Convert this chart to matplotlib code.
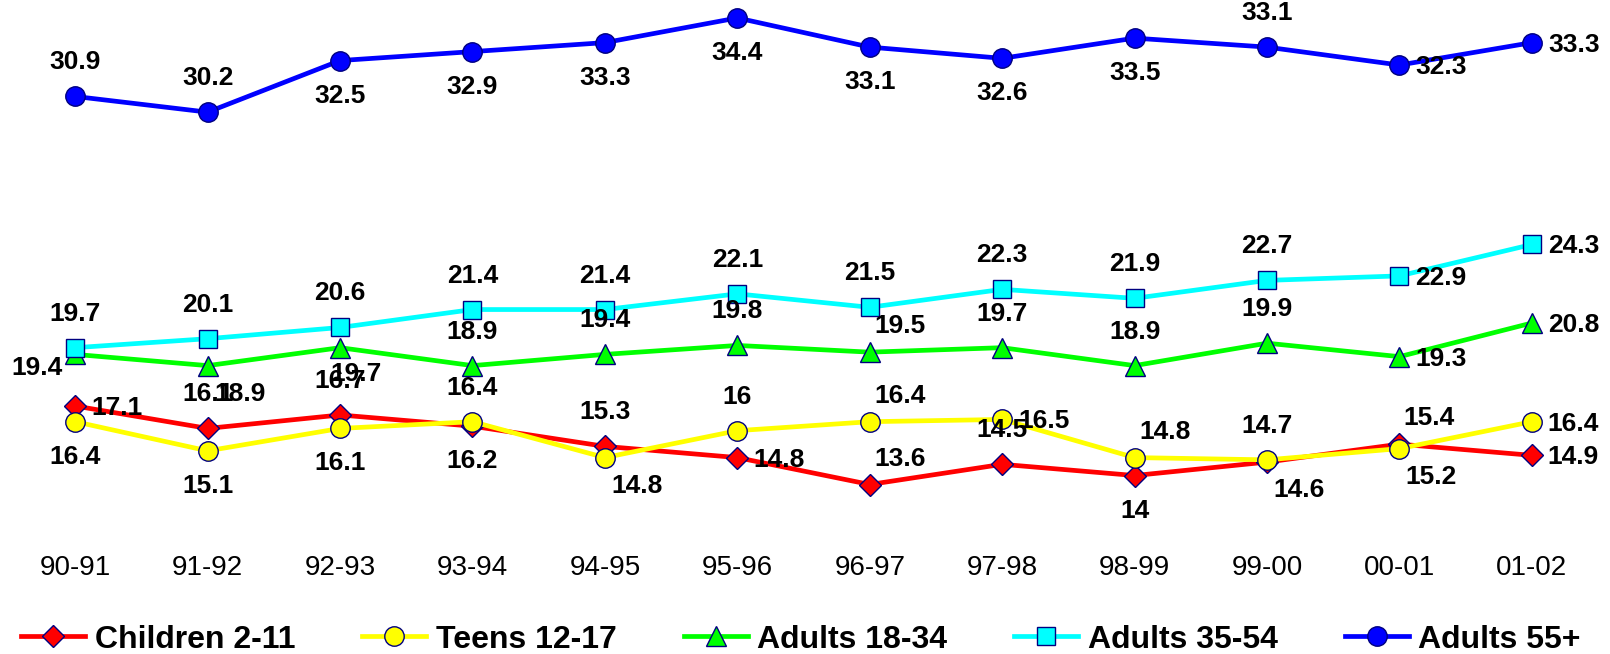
import matplotlib
matplotlib.use('Agg')
import matplotlib.pyplot as plt
import numpy as np

plt.rcParams['font.family'] = ['Liberation Sans', 'DejaVu Sans']

# season labels
seasons = ['90-91', '91-92', '92-93', '93-94', '94-95', '95-96',
           '96-97', '97-98', '98-99', '99-00', '00-01', '01-02']

# weekly viewing per group
children = [17.1, 16.1, 16.7, 16.2, 15.3, 14.8, 13.6, 14.5, 14, 14.6, 15.4, 14.9]
teens = [16.4, 15.1, 16.1, 16.4, 14.8, 16, 16.4, 16.5, 14.8, 14.7, 15.2, 16.4]
adults_18_34 = [19.4, 18.9, 19.7, 18.9, 19.4, 19.8, 19.5, 19.7, 18.9, 19.9, 19.3, 20.8]
adults_35_54 = [19.7, 20.1, 20.6, 21.4, 21.4, 22.1, 21.5, 22.3, 21.9, 22.7, 22.9, 24.3]
adults_55 = [30.9, 30.2, 32.5, 32.9, 33.3, 34.4, 33.1, 32.6, 33.5, 33.1, 32.3, 33.3]

# label placement per point
pos_children = ['r', 'a', 'a', 'b', 'a', 'r', 'ra', 'a', 'b', 'rb', 'ra', 'r']
pos_teens = ['b', 'b', 'b', 'a', 'rb', 'a', 'ra', 'r', 'ra', 'a', 'rb', 'r']
pos_18_34 = ['lb', 'rb', 'sb', 'a', 'a', 'a', 'ra', 'a', 'a', 'a', 'r', 'r']
pos_35_54 = ['a', 'a', 'a', 'a', 'a', 'a', 'a', 'a', 'a', 'a', 'r', 'r']
pos_55 = ['a', 'a', 'b', 'b', 'b', 'b', 'b', 'b', 'b', 'a', 'r', 'r']

# offsets in pixels (dx, dy down, ha)
offsets = {
    'a': (0, -34, 'center'),
    'b': (0, 35, 'center'),
    'r': (16, 2, 'left'),
    'ra': (30, -26, 'center'),
    'rb': (32, 28, 'center'),
    'sb': (16, 26, 'center'),
    'lb': (-38, 14, 'center'),
}

series = [
    ('Children 2-11', children, pos_children, 'red', 'D', 11),
    ('Teens 12-17', teens, pos_teens, 'yellow', 'o', 14),
    ('Adults 18-34', adults_18_34, pos_18_34, '#00ff00', '^', 14),
    ('Adults 35-54', adults_35_54, pos_35_54, 'cyan', 's', 13),
    ('Adults 55+', adults_55, pos_55, 'blue', 'o', 14),
]

fig = plt.figure(figsize=(16.1, 6.54), dpi=100)
ax = fig.add_axes([0.0056, 0.17, 0.987, 0.83])
x = np.arange(len(seasons))

for name, vals, pos, col, mk, ms in series:
    ax.plot(x, vals, color=col, lw=3.4, marker=mk, markersize=ms,
            markerfacecolor=col, markeredgecolor='#000080',
            markeredgewidth=1.0, label=name, zorder=3)

for name, vals, pos, col, mk, ms in series:
    for xi, v, p in zip(x, vals, pos):
        dx, dy, ha = offsets[p]
        ax.annotate(f'{v:g}', (xi, v), xytext=(dx * 0.72, -dy * 0.72),
                    textcoords='offset points', ha=ha, va='center',
                    fontsize=19, fontweight='bold', color='black', zorder=5)

ax.set_xlim(-0.5, 11.5)
ax.set_ylim(11, 35.2)
ax.set_xticks(x)
ax.set_xticklabels(seasons, fontsize=20)
ax.tick_params(axis='x', length=0, pad=9)
ax.set_yticks([])
for s in ax.spines.values():
    s.set_visible(False)

leg = fig.legend(loc='lower center', bbox_to_anchor=(0.4975, -0.045), ncol=5,
                 frameon=False, handlelength=2.0, columnspacing=2.1,
                 handletextpad=0.3, prop={'size': 23, 'weight': 'bold'})

fig.savefig('out.png', dpi=100)
